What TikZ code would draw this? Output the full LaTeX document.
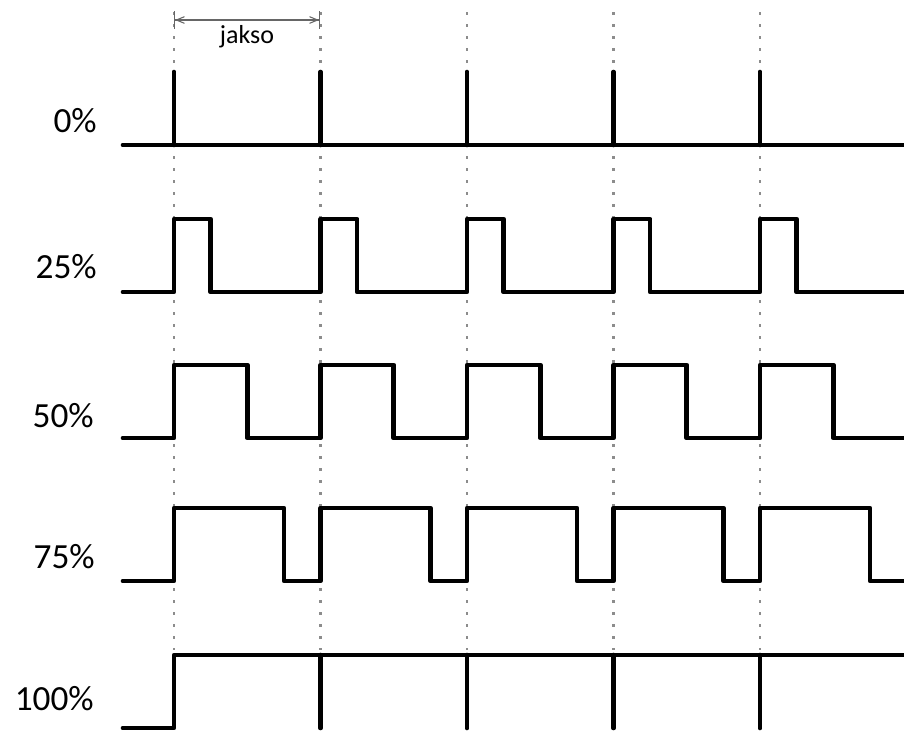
\documentclass[tikz,border=0pt]{standalone}
\usepackage{fontspec}
\setmainfont{Carlito}
\usetikzlibrary{arrows.meta}
\begin{document}
\begin{tikzpicture}[x=0.75pt,y=-0.75pt,
	wave/.style={line width=3.5pt,line cap=round,line join=round},
	gridline/.style={black!45,line width=1.6pt,dash pattern=on 2.2pt off 6.8pt},
	lab/.style={anchor=east,inner sep=0pt,font=\fontsize{26.5}{30}\selectfont}]
	\useasboundingbox (0,0) rectangle (904,733);
	% period lines
	\foreach \k in {0,...,4}
		\draw[gridline] (174+146.5*\k,12) -- (174+146.5*\k,650);
	% period arrow
	\coordinate (j1) at (174,20);
	\coordinate (j2) at (320,20);
	\draw[black!60,line width=0.8pt,{Bar[width=13pt]Straight Barb[length=6pt,width=5pt]}-{Straight Barb[length=6pt,width=5pt]Bar[width=13pt]}] (j1) to node[below=3pt,black,inner sep=1pt,font=\fontsize{19.5}{22}\selectfont]{jakso} (j2);
	% labels
	\node[lab] (p0) at (97,121) {0\%};
	\node[lab] (p25) at (97,267) {25\%};
	\node[lab] (p50) at (94,416) {50\%};
	\node[lab] (p75) at (95,557) {75\%};
	\node[lab] (p100) at (94,699) {100\%};
	% 0%
	\draw[wave] (123,145) -- (904,145);
	\foreach \k in {0,...,4}
		\draw[wave] (174+146.5*\k,145) -- ++(0,-73);
	% 25%, 50%, 75%
	\foreach \b/\w in {292/36.6, 438/73.3, 581/110}
		\draw[wave] (123,\b) \foreach \k in {0,...,4}{ -- (174+146.5*\k,\b) -- ++(0,-73) -- ++(\w,0) -- ++(0,73)} -- (904,\b);
	% 100%
	\draw[wave] (123,728) -- (174,728) -- (174,655) -- (904,655);
	\foreach \k in {1,...,4}
		\draw[wave] (174+146.5*\k,655) -- ++(0,73);
\end{tikzpicture}
\end{document}
